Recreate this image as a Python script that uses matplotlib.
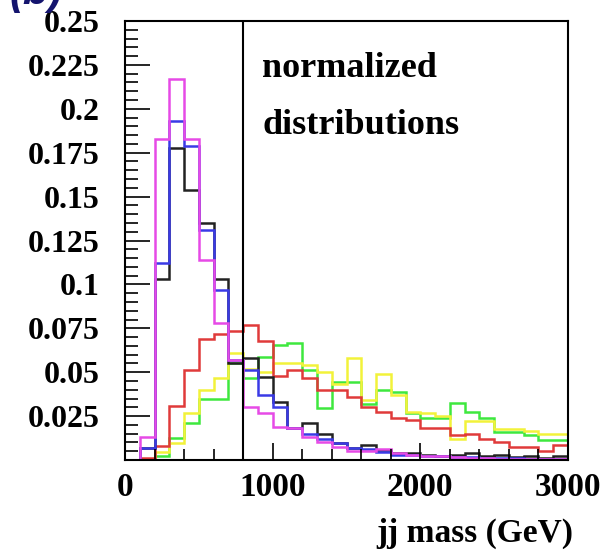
import numpy as np
import matplotlib
matplotlib.use("Agg")
import matplotlib.pyplot as plt
from matplotlib.ticker import MultipleLocator, FixedLocator, FixedFormatter

# 100 GeV bins from 0 to 3000 GeV
bin_edges = np.arange(0, 3001, 100)

magenta = [0.0, 0.013, 0.183, 0.217, 0.183, 0.114, 0.078, 0.057, 0.030, 0.027,
           0.019, 0.018, 0.013, 0.010, 0.0076, 0.005, 0.005, 0.006, 0.004, 0.003,
           0.002, 0.002, 0.0015, 0.001, 0.001, 0.0008, 0.0008, 0.0005, 0.0005, 0.0005]
blue = [0.0, 0.007, 0.112, 0.193, 0.179, 0.131, 0.097, 0.057, 0.051, 0.037,
        0.030, 0.018, 0.015, 0.012, 0.0095, 0.0066, 0.006, 0.0045, 0.003, 0.003,
        0.002, 0.002, 0.0015, 0.0015, 0.001, 0.001, 0.001, 0.0008, 0.0008, 0.0005]
black = [0.0, 0.007, 0.103, 0.1775, 0.154, 0.135, 0.103, 0.0555, 0.058, 0.0475,
         0.033, 0.018, 0.021, 0.015, 0.0095, 0.0066, 0.0085, 0.0055, 0.004, 0.004,
         0.003, 0.0025, 0.003, 0.004, 0.002, 0.003, 0.0015, 0.002, 0.001, 0.002]
red = [0.0, 0.001, 0.0082, 0.031, 0.051, 0.069, 0.072, 0.0736, 0.077, 0.068,
       0.048, 0.051, 0.0465, 0.040, 0.040, 0.036, 0.030, 0.0275, 0.024, 0.023,
       0.018, 0.018, 0.014, 0.015, 0.012, 0.0104, 0.0076, 0.0076, 0.0051, 0.0085]
yellow = [0.0, 0.0, 0.0047, 0.0097, 0.0266, 0.040, 0.0465, 0.0607, 0.052, 0.050,
          0.055, 0.055, 0.054, 0.050, 0.043, 0.058, 0.034, 0.049, 0.037, 0.0275,
          0.0267, 0.025, 0.012, 0.022, 0.022, 0.0175, 0.0175, 0.0165, 0.015, 0.015]
green = [0.0, 0.0, 0.002, 0.0123, 0.0209, 0.035, 0.035, 0.055, 0.0465, 0.0588,
         0.0655, 0.0668, 0.051, 0.0295, 0.0446, 0.0446, 0.032, 0.040, 0.039, 0.0266,
         0.0237, 0.0237, 0.0326, 0.0275, 0.0237, 0.0161, 0.0161, 0.0142, 0.0114, 0.0114]

mass_cut = 800

x_ticks = [0, 1000, 2000, 3000]
x_tick_labels = ["0", "1000", "2000", "3000"]
y_ticks = [0.025, 0.05, 0.075, 0.1, 0.125, 0.15, 0.175, 0.2, 0.225, 0.25]
y_tick_labels = ["0.025", "0.05", "0.075", "0.1", "0.125", "0.15", "0.175", "0.2", "0.225", "0.25"]

series = [
    (green, "#3ee83e"),
    (yellow, "#f2f23a"),
    (red, "#e03a3a"),
    (black, "#222222"),
    (blue, "#3a3ae6"),
    (magenta, "#e64ae6"),
]

serif_bold = dict(family="Liberation Serif", weight="bold")

fig = plt.figure(figsize=(6.08, 5.51), dpi=100)
ax = fig.add_axes([125 / 608, 1 - 460 / 551, 443 / 608, 439 / 551])

for values, color in series:
    ax.stairs(values, bin_edges, color=color, lw=1.8, baseline=None)

ax.axvline(mass_cut, color="black", lw=1.5)

ax.set_xlim(0, 3000)
ax.set_ylim(0, 0.25)

ax.xaxis.set_major_locator(FixedLocator(x_ticks))
ax.xaxis.set_major_formatter(FixedFormatter(x_tick_labels))
ax.xaxis.set_minor_locator(MultipleLocator(200))
ax.yaxis.set_major_locator(FixedLocator(y_ticks))
ax.yaxis.set_major_formatter(FixedFormatter(y_tick_labels))
ax.yaxis.set_minor_locator(MultipleLocator(0.005))

ax.tick_params(axis="both", which="both", direction="in", top=False, right=False, width=1.2)
ax.tick_params(axis="y", which="major", length=18, pad=18)
ax.tick_params(axis="y", which="minor", length=9)
ax.tick_params(axis="x", which="major", length=12, pad=9)
ax.tick_params(axis="x", which="minor", length=8)

for lab in ax.get_xticklabels():
    lab.set_fontproperties(dict(serif_bold, size=24))
for lab in ax.get_yticklabels():
    lab.set_fontproperties(dict(serif_bold, size=23))

for sp in ax.spines.values():
    sp.set_linewidth(1.5)

fig.text(262 / 608, 1 - 77 / 551, "normalized", fontsize=26, va="baseline", ha="left", **serif_bold)
fig.text(262 / 608, 1 - 134 / 551, "distributions", fontsize=26, va="baseline", ha="left", **serif_bold)
fig.text(573 / 608, 1 - 542 / 551, "jj mass (GeV)", fontsize=24, va="baseline", ha="right", **serif_bold)

# panel tag, mostly above the top edge of the canvas
fig.text(63 / 608, 1 - 4 / 551, "(b)", fontsize=30, va="baseline", ha="right",
         family="Liberation Sans", weight="bold", style="italic", color="#14146e")

fig.savefig("out.png", dpi=100)
